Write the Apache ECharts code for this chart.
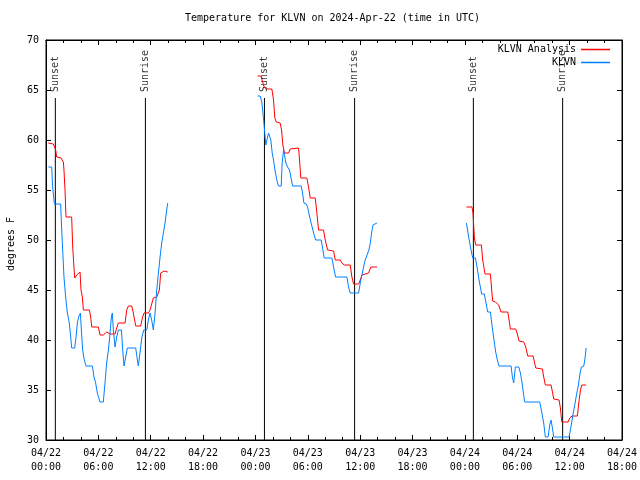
<!DOCTYPE html>
<html>
<head>
<meta charset="utf-8">
<script src="https://cdn.jsdelivr.net/npm/echarts@6/dist/echarts.min.js"></script>
<style>html,body{margin:0;padding:0;background:#fff}#c{width:640px;height:480px}</style>
</head>
<body>
<div id="c"></div>
<script>
// hours since 2024-04-22 00:00 UTC; null separates data gaps
var analysisHours = [0.27,0.84,1.11,1.22,1.72,1.99,2.06,2.18,2.29,2.94,3.06,3.21,3.29,3.52,3.90,4.01,4.17,4.28,4.97,5.12,5.24,6.00,6.19,6.57,6.95,7.15,7.34,7.91,8.10,8.29,9.06,9.25,9.44,9.82,10.01,10.28,10.85,11.04,11.23,11.73,11.92,12.30,12.69,12.99,13.14,13.53,13.95,
  null,
  24.24,24.62,25.00,25.23,25.88,26.07,26.22,26.38,26.83,26.99,27.14,27.33,27.79,27.98,28.17,28.94,29.05,29.20,29.89,30.08,30.28,30.85,31.04,31.23,31.80,32.00,32.26,32.95,33.14,33.72,33.91,34.17,34.86,35.05,35.24,35.82,36.01,36.20,36.39,36.96,37.23,37.92,
  null,
  48.17,48.81,48.93,49.08,49.23,49.89,50.04,50.31,50.92,51.07,51.18,51.49,51.87,52.14,52.91,53.06,53.21,53.82,53.98,54.20,54.74,54.97,55.20,55.81,56.12,56.88,57.03,57.22,57.87,58.03,58.18,58.79,58.94,59.10,59.82,60.02,60.28,60.89,61.05,61.24,61.39,61.89];
var analysisTemps = [59.7,59.6,59.0,58.3,58.2,57.8,57.0,55.0,52.3,52.3,49.3,47.2,46.2,46.5,46.8,45.0,44.3,43.0,43.0,42.3,41.3,41.3,40.5,40.5,40.8,40.6,40.6,40.6,41.2,41.7,41.7,43.0,43.4,43.4,42.7,41.4,41.4,42.2,42.7,42.7,43.0,44.2,44.3,45.0,46.7,46.9,46.8,
  null,
  66.4,66.4,65.3,65.1,65.1,64.0,62.2,61.8,61.7,61.0,59.5,58.7,58.7,59.1,59.2,59.2,58.0,56.2,56.2,55.3,54.2,54.2,52.7,51.0,51.0,50.0,49.0,48.9,48.0,48.0,47.7,47.5,47.5,46.3,45.6,45.6,46.0,46.5,46.7,46.7,47.3,47.3,
  null,
  53.3,53.3,52.7,50.3,49.5,49.5,48.0,46.6,46.6,45.0,43.9,43.8,43.5,42.8,42.8,42.0,41.1,41.1,40.7,39.9,39.8,39.3,38.4,38.4,37.2,37.1,36.3,35.5,35.5,34.8,34.1,34.0,33.2,31.8,31.8,32.2,32.4,32.4,33.7,35.0,35.5,35.5];

var klvnHours = [0.27,0.65,0.76,0.96,1.68,1.80,1.91,2.06,2.25,2.45,2.67,2.83,2.94,3.29,3.44,3.59,3.74,3.94,4.05,4.20,4.39,4.59,5.31,5.50,5.69,5.88,6.19,6.57,6.76,6.95,7.15,7.30,7.49,7.60,7.72,7.91,8.10,8.29,8.64,8.79,8.94,9.13,9.32,10.28,10.47,10.58,10.78,10.97,11.20,11.54,11.73,11.92,12.11,12.30,12.50,12.69,12.88,13.07,13.26,13.45,13.64,13.83,13.95,
  null,
  24.24,24.54,24.73,24.92,25.04,25.19,25.31,25.50,25.61,25.76,25.92,26.07,26.18,26.38,26.53,26.64,26.95,27.06,27.22,27.37,27.48,27.68,27.90,28.06,28.25,29.24,29.40,29.55,29.82,29.97,30.16,30.35,30.58,30.73,30.89,31.54,31.73,31.88,32.76,32.95,33.18,34.48,34.67,34.86,35.82,36.01,36.20,36.39,36.58,36.77,37.00,37.16,37.31,37.46,37.92,
  null,
  48.17,48.43,48.70,48.89,49.20,49.39,49.62,49.92,50.23,50.42,50.61,50.92,51.07,51.22,51.38,51.53,51.72,51.91,53.29,53.44,53.59,53.78,54.17,54.36,54.55,54.70,54.85,56.57,56.80,57.03,57.22,57.53,57.72,57.87,58.03,58.18,59.94,60.09,60.28,60.47,60.63,60.78,61.01,61.20,61.35,61.62,61.77,61.89];
var klvnTemps = [57.3,57.3,55.3,53.6,53.6,51.0,49.0,46.3,44.3,42.7,41.7,40.3,39.2,39.2,40.3,41.7,42.3,42.7,41.0,39.0,38.0,37.4,37.4,36.3,35.7,34.7,33.8,33.8,35.7,37.7,39.0,40.3,42.3,42.7,41.0,39.3,40.3,41.0,41.0,39.0,37.4,38.3,39.2,39.2,38.0,37.4,38.8,40.2,41.0,41.0,42.0,42.7,42.0,41.0,42.7,45.0,46.7,48.3,49.7,50.7,51.7,53.0,53.7,
  null,
  64.4,64.4,63.8,62.2,61.0,59.5,60.0,60.7,60.8,60.0,58.7,58.0,57.3,56.3,55.7,55.4,55.4,57.7,59.0,58.3,57.7,57.3,57.0,56.3,55.4,55.4,54.7,53.7,53.6,53.3,52.5,51.8,51.0,50.5,50.0,50.0,49.0,48.2,48.2,47.3,46.3,46.3,45.3,44.7,44.7,45.7,46.5,47.3,48.0,48.2,49.0,49.7,50.7,51.5,51.7,
  null,
  51.7,50.3,49.0,48.2,48.2,47.3,46.0,44.6,44.6,43.7,42.8,42.8,41.7,40.7,39.7,38.8,38.0,37.4,37.4,36.3,35.7,37.3,37.3,36.7,35.7,34.7,33.8,33.8,32.8,31.7,30.3,30.3,31.5,32.0,31.2,30.3,30.3,31.0,32.0,33.0,33.7,34.5,35.5,36.7,37.3,37.4,38.2,39.2];

var sunHours = [1.07, 11.39, 25.03, 35.36, 48.97, 59.20];
var sunLabels = ['Sunset', 'Sunrise', 'Sunset', 'Sunrise', 'Sunset', 'Sunrise'];

var xTickInterval = 6;
var yTickInterval = 5;

function pairs(hs, vs) {
  var out = [];
  for (var i = 0; i < hs.length; i++) {
    if (hs[i] === null) { out.push([out.length ? out[out.length-1][0] : 0, '-']); }
    else out.push([hs[i], vs[i]]);
  }
  return out;
}
var sunLineData = [];
var sunTextData = [];
for (var i = 0; i < sunHours.length; i++) {
  sunLineData.push([sunHours[i], 30], [sunHours[i], 64.2], [sunHours[i], '-']);
  sunTextData.push({ value: [sunHours[i], 64.8], name: sunLabels[i] });
}

var FONT = 'DejaVu Sans Mono';
function fmtX(h) {
  var day = 22 + Math.floor(h / 24);
  var hr = Math.round(h % 24);
  return '04/' + day + '\n' + (hr < 10 ? '0' : '') + hr + ':00';
}

var chart = echarts.init(document.getElementById('c'), null, { renderer: 'canvas' });
var axisBase = {
  axisLine: { show: true, onZero: false, lineStyle: { color: '#000', width: 1 } },
  splitLine: { show: false }
};
var legendText = { fontFamily: FONT, fontSize: 10, color: '#000', lineHeight: 12 };
chart.setOption({
  animation: false,
  backgroundColor: '#fff',
  title: {
    text: 'Temperature for KLVN on 2024-Apr-22 (time in UTC)',
    left: 185, top: 13, padding: 0,
    textStyle: { fontFamily: FONT, fontSize: 10, fontWeight: 'normal', color: '#000' }
  },
  legend: [
    { data: ['KLVN Analysis'], right: 30, top: 43.5, padding: 0, align: 'right', icon: 'rect', itemWidth: 29, itemHeight: 1.5, textStyle: legendText },
    { data: ['KLVN'], right: 30, top: 56.5, padding: 0, align: 'right', icon: 'rect', itemWidth: 29, itemHeight: 1.5, textStyle: legendText }
  ],
  grid: { left: 46, right: 18, top: 40, bottom: 40, show: true, borderColor: '#000', borderWidth: 1,
    containLabel: false, outerBoundsMode: 'none' },
  xAxis: [
    Object.assign({}, axisBase, {
      type: 'value', min: 0, max: 66, interval: xTickInterval, position: 'bottom',
      axisTick: { show: true, inside: true, length: 5, lineStyle: { color: '#000' } },
      minorTick: { show: true, splitNumber: 3, length: 3, lineStyle: { color: '#000' } },
      axisLabel: { formatter: fmtX, fontFamily: FONT, fontSize: 10, color: '#000', margin: 6, lineHeight: 14 }
    }),
    Object.assign({}, axisBase, {
      type: 'value', min: 0, max: 66, interval: xTickInterval, position: 'top',
      axisTick: { show: true, inside: true, length: 5, lineStyle: { color: '#000' } },
      minorTick: { show: true, splitNumber: 3, length: 3, lineStyle: { color: '#000' } },
      axisLabel: { show: false }
    })
  ],
  yAxis: [
    Object.assign({}, axisBase, {
      type: 'value', min: 30, max: 70, interval: yTickInterval, position: 'left',
      name: 'degrees F', nameLocation: 'middle', nameRotate: 90, nameGap: 28,
      nameTextStyle: { fontFamily: FONT, fontSize: 10, color: '#000', padding: [0, 8, 0, 0] },
      axisTick: { show: true, inside: true, length: 5, lineStyle: { color: '#000' } },
      axisLabel: { fontFamily: FONT, fontSize: 10, color: '#000', margin: 7 }
    }),
    Object.assign({}, axisBase, {
      type: 'value', min: 30, max: 70, interval: yTickInterval, position: 'right',
      axisTick: { show: true, inside: true, length: 5, lineStyle: { color: '#000' } },
      axisLabel: { show: false }
    })
  ],
  series: [
    {
      name: 'sun', type: 'line', data: sunLineData, symbol: 'none', silent: true,
      lineStyle: { color: '#000', width: 1 }, connectNulls: false, z: 1
    },
    {
      name: 'sunText', type: 'scatter', data: sunTextData, symbolSize: 0, silent: true,
      label: { show: true, position: [0, 0], rotate: 90, align: 'left', verticalAlign: 'middle',
        formatter: '{b}', fontFamily: FONT, fontSize: 10, color: '#000' }
    },
    {
      name: 'KLVN Analysis', type: 'line', data: pairs(analysisHours, analysisTemps), symbol: 'none',
      lineStyle: { color: '#ff0000', width: 1 }, itemStyle: { color: '#ff0000' }, connectNulls: false, z: 3
    },
    {
      name: 'KLVN', type: 'line', data: pairs(klvnHours, klvnTemps), symbol: 'none',
      lineStyle: { color: '#0080ff', width: 1 }, itemStyle: { color: '#0080ff' }, connectNulls: false, z: 3
    }
  ]
});
</script>
</body>
</html>
